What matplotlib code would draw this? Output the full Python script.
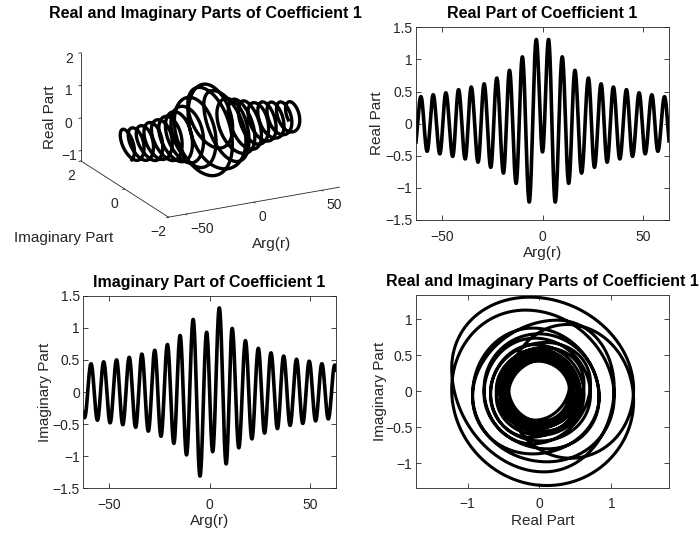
import numpy as np
import matplotlib
matplotlib.use("Agg")
import matplotlib.pyplot as plt

plt.rcParams["font.family"] = ["Liberation Sans", "DejaVu Sans"]

# Turning points (position on Arg(r), value) of the real part of coefficient 1
real_turn_x = [-63.7, -60.4, -57.3, -54.3, -51.0, -48.0, -44.6, -41.7, -38.4, -35.4,
               -32.0, -29.0, -25.7, -22.7, -19.4, -16.4, -13.1, -10.0, -6.6, -3.1,
               0.0, 3.0, 6.3, 9.8, 13.0, 16.1, 19.4, 22.8, 25.8, 29.1,
               32.1, 35.2, 38.4, 41.7, 44.7, 48.0, 51.0, 54.3, 57.3, 60.6, 63.7]
real_turn_y = [-0.42, 0.42, -0.43, 0.45, -0.47, 0.48, -0.51, 0.53, -0.55, 0.57,
               -0.60, 0.62, -0.68, 0.71, -0.77, 0.83, -0.93, 1.04, -1.22, 1.31,
               -0.44, 1.31, -1.22, 1.04, -0.93, 0.83, -0.77, 0.71, -0.68, 0.62,
               -0.60, 0.57, -0.55, 0.53, -0.51, 0.48, -0.47, 0.45, -0.43, 0.42, -0.42]

# Turning points of the imaginary part of coefficient 1
imag_turn_x = [-65.3, -62.2, -59.0, -55.8, -52.7, -49.5, -46.3, -43.2, -40.0, -36.8,
               -33.7, -30.5, -27.3, -24.2, -21.0, -17.8, -14.7, -11.5, -8.2, -4.8,
               -1.5, 1.5, 4.8, 8.2, 11.2, 14.5, 17.8, 21.0, 24.2, 27.3,
               30.5, 33.7, 36.8, 40.0, 43.2, 46.3, 49.5, 52.7, 55.8, 59.0,
               62.2, 65.3]
imag_turn_y = [0.40, -0.40, 0.44, -0.44, 0.47, -0.48, 0.50, -0.51, 0.54, -0.55,
               0.59, -0.61, 0.65, -0.69, 0.74, -0.80, 0.88, -0.98, 1.13, -1.31,
               0.93, -0.93, 1.31, -1.12, 0.99, -0.87, 0.80, -0.73, 0.68, -0.64,
               0.61, -0.57, 0.56, -0.52, 0.51, -0.49, 0.48, -0.45, 0.44, -0.42,
               0.42, -0.40]

arg_limits = (-20 * np.pi, 20 * np.pi)
arg_ticks = [-50, 0, 50]
part_ticks = [-1.5, -1, -0.5, 0, 0.5, 1, 1.5]
phase_x_ticks = [-1, 0, 1]
phase_y_ticks = [-1, -0.5, 0, 0.5, 1]
title_text = "Coefficient 1"


def trace_through_turning_points(xs, tx, ty):
    """Smooth curve that rises and falls between successive turning points."""
    tx = np.asarray(tx)
    ty = np.asarray(ty)
    i = np.clip(np.searchsorted(tx, xs, side="right") - 1, 0, len(tx) - 2)
    x0, x1 = tx[i], tx[i + 1]
    y0, y1 = ty[i], ty[i + 1]
    t = (xs - x0) / (x1 - x0)
    return y0 + (y1 - y0) * (1 - np.cos(np.pi * t)) / 2


arg = np.linspace(arg_limits[0], arg_limits[1], 6000)
re = trace_through_turning_points(arg, real_turn_x, real_turn_y)
im = trace_through_turning_points(arg, imag_turn_x, imag_turn_y)

AX_COLOR = "#262626"
LW = 2.6
TICK_FS = 10
LABEL_FS = 11
TITLE_FS = 11.5
W, H = 700, 536

fig = plt.figure(figsize=(W / 100, H / 100), dpi=100)


def style_2d(ax, ylabel_x):
    for s in ax.spines.values():
        s.set_color(AX_COLOR)
        s.set_linewidth(0.6)
    ax.tick_params(direction="in", top=True, right=True, length=3.5, width=0.6,
                   colors=AX_COLOR, labelsize=TICK_FS, labelcolor=AX_COLOR)
    ax.tick_params(axis="x", pad=7)
    ax.tick_params(axis="y", pad=2.5)
    ax.xaxis.set_label_coords(0.5, -0.135)
    ax.yaxis.set_label_coords(ylabel_x, 0.5)
    ax.xaxis.label.set_color(AX_COLOR)
    ax.yaxis.label.set_color(AX_COLOR)


def fig_rect(left_px, top_px, right_px, bottom_px):
    return [left_px / W, 1 - bottom_px / H, (right_px - left_px) / W, (bottom_px - top_px) / H]


# Real part against Arg(r)
ax_re = fig.add_axes(fig_rect(416, 27.3, 669, 220))
ax_re.plot(arg, re, color="k", lw=LW)
ax_re.set_xlim(arg_limits)
ax_re.set_ylim(-1.5, 1.5)
ax_re.set_xticks(arg_ticks)
ax_re.set_yticks(part_ticks)
ax_re.set_yticklabels(["\u22121.5", "\u22121", "\u22120.5", "0", "0.5", "1", "1.5"])
ax_re.set_xticklabels(["\u221250", "0", "50"])
ax_re.set_xlabel("Arg(r)", fontsize=LABEL_FS)
ax_re.set_ylabel("Real Part", fontsize=LABEL_FS)
ax_re.set_title("Real Part of " + title_text, fontsize=TITLE_FS, fontweight="bold", pad=6.5)
style_2d(ax_re, -0.125)

# Imaginary part against Arg(r)
ax_im = fig.add_axes(fig_rect(83.3, 295.7, 336, 488.3))
ax_im.plot(arg, im, color="k", lw=LW)
ax_im.set_xlim(arg_limits)
ax_im.set_ylim(-1.5, 1.5)
ax_im.set_xticks(arg_ticks)
ax_im.set_yticks(part_ticks)
ax_im.set_yticklabels(["\u22121.5", "\u22121", "\u22120.5", "0", "0.5", "1", "1.5"])
ax_im.set_xticklabels(["\u221250", "0", "50"])
ax_im.set_xlabel("Arg(r)", fontsize=LABEL_FS)
ax_im.set_ylabel("Imaginary Part", fontsize=LABEL_FS)
ax_im.set_title("Imaginary Part of " + title_text, fontsize=TITLE_FS, fontweight="bold", pad=6.5)
style_2d(ax_im, -0.125)

# Imaginary part against real part, equal scaling with tight vertical range
ph_rect = fig_rect(416, 295, 669.3, 487.7)
ax_ph = fig.add_axes(ph_rect)
ax_ph.plot(re, im, color="k", lw=2.2)
y_lo, y_hi = im.min() - 0.03, im.max() + 0.03
half_w = (y_hi - y_lo) * (ph_rect[2] * W) / (ph_rect[3] * H) / 2
x_mid = (re.min() + re.max()) / 2
ax_ph.set_xlim(x_mid - half_w, x_mid + half_w)
ax_ph.set_ylim(y_lo, y_hi)
ax_ph.set_xticks(phase_x_ticks)
ax_ph.set_yticks(phase_y_ticks)
ax_ph.set_xticklabels(["\u22121", "0", "1"])
ax_ph.set_yticklabels(["\u22121", "\u22120.5", "0", "0.5", "1"])
ax_ph.set_xlabel("Real Part", fontsize=LABEL_FS)
ax_ph.set_ylabel("Imaginary Part", fontsize=LABEL_FS)
ax_ph.set_title("Real and Imaginary Parts of " + title_text, fontsize=TITLE_FS,
                fontweight="bold", pad=6.5)
style_2d(ax_ph, -0.115)

# Three-dimensional trajectory: Arg(r), imaginary part, real part
ax3 = fig.add_axes([0.046, 0.5605, 0.50, 0.42], projection="3d", proj_type="ortho")
ax3.plot(arg, im, re, color="k", lw=2.4)
ax3.set_xlim(arg_limits)
ax3.set_ylim(-2, 2)
ax3.set_zlim(-1.32, 2)
ax3.set_xticks(arg_ticks)
ax3.set_yticks([-2, 0, 2])
ax3.set_zticks([-1, 0, 1, 2])
ax3.set_xticklabels(["\u221250", "0", "50"])
ax3.set_yticklabels(["\u22122", "0", "2"])
ax3.set_zticklabels(["\u22121", "0", "1", "2"])
ax3.view_init(elev=19.6, azim=-117.6)
ax3.set_box_aspect((188, 184, 112), zoom=1.265)
ax3.grid(False)
for axis in (ax3.xaxis, ax3.yaxis, ax3.zaxis):
    axis.set_pane_color((1, 1, 1, 0))
    axis.pane.set_edgecolor((1, 1, 1, 0))
    axis.line.set_color(AX_COLOR)
    axis.line.set_linewidth(0.6)
    axis._axinfo["tick"]["inward_factor"] = 0.15
    axis._axinfo["tick"]["outward_factor"] = 0.0
    axis._axinfo["tick"]["linewidth"] = {True: 0.6, False: 0.6}
    axis._axinfo["tick"]["color"] = AX_COLOR
ax3.tick_params(labelsize=TICK_FS, colors=AX_COLOR)
ax3.tick_params(axis="z", pad=-4)
ax3.tick_params(axis="y", pad=-3)
ax3.tick_params(axis="x", pad=-4)
for tick in ax3.xaxis.get_major_ticks():
    tick.label1.set_horizontalalignment("left")
ax3.text2D(50 / W, 1 - 117 / H, "Real Part", transform=fig.transFigure, rotation=90,
           ha="center", va="center", fontsize=LABEL_FS, color=AX_COLOR)
ax3.text2D(63.5 / W, 1 - 238 / H, "Imaginary Part", transform=fig.transFigure,
           ha="center", va="center", fontsize=LABEL_FS, color=AX_COLOR)
ax3.text2D(272 / W, 1 - 244 / H, "Arg(r)", transform=fig.transFigure,
           ha="center", va="center", fontsize=LABEL_FS, color=AX_COLOR)
ax3.text2D(205 / W, 1 - 18 / H, "Real and Imaginary Parts of " + title_text,
           transform=fig.transFigure, ha="center", va="baseline",
           fontsize=TITLE_FS, fontweight="bold", color="k")

fig.savefig("out.png", dpi=100)
